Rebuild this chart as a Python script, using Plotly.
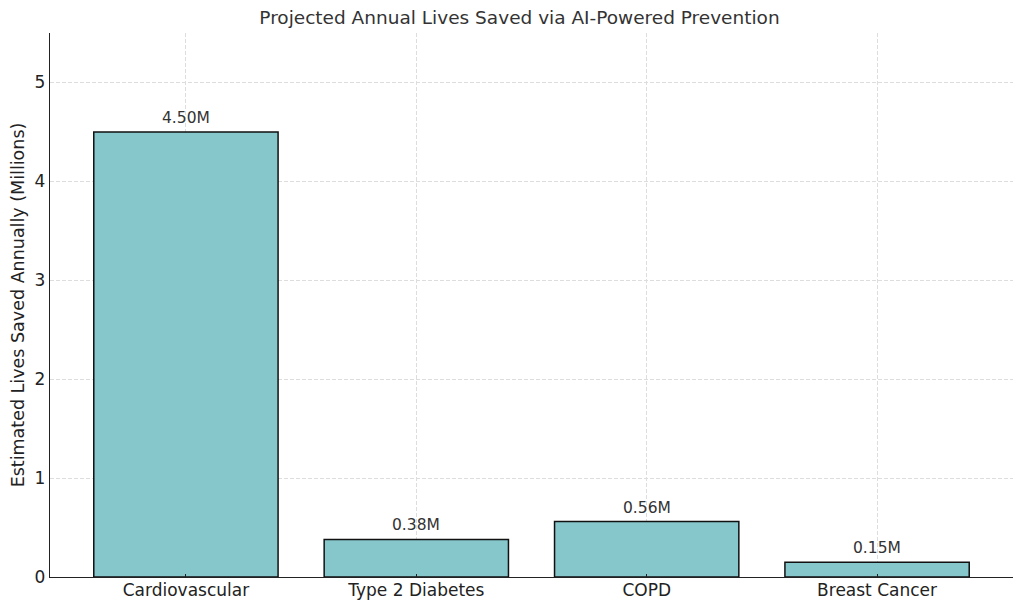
import plotly.graph_objects as go

categories = ["Cardiovascular", "Type 2 Diabetes", "COPD", "Breast Cancer"]
lives_saved_millions = [4.50, 0.38, 0.56, 0.15]
value_labels = ["4.50M", "0.38M", "0.56M", "0.15M"]
y_ticks = [0, 1, 2, 3, 4, 5]

FONT = "DejaVu Sans"

fig = go.Figure()
fig.add_trace(go.Bar(
    x=list(range(len(categories))),
    y=lives_saved_millions,
    width=0.8,
    marker=dict(color="#86C7CC", line=dict(color="#111111", width=1.5)),
    hoverinfo="skip",
))

for i, (v, lab) in enumerate(zip(lives_saved_millions, value_labels)):
    fig.add_annotation(x=i, y=v, text=lab, showarrow=False, yanchor="bottom",
                       yshift=3, font=dict(family=FONT, size=15.5, color="#333333"))

fig.update_layout(
    width=1023, height=610,
    margin=dict(l=42, r=18, t=25, b=41),
    paper_bgcolor="white", plot_bgcolor="white",
    showlegend=False,
    title=dict(text="Projected Annual Lives Saved via AI-Powered Prevention",
               x=0.5, xanchor="center", y=0.984, yanchor="middle",
               font=dict(family=FONT, size=18.5, color="#333333")),
    font=dict(family=FONT, color="#222222"),
)
fig.update_xaxes(
    range=[-0.59, 3.59],
    tickmode="array", tickvals=list(range(len(categories))), ticktext=categories,
    tickfont=dict(family=FONT, size=17, color="#222222"),
    showgrid=True, gridcolor="#dddddd", gridwidth=0.8, griddash="4px,2px",
    showline=True, linecolor="#222222", linewidth=1.3,
    ticks="inside", ticklen=3, tickcolor="#222222", ticklabelstandoff=-3,
    zeroline=False, layer="above traces", automargin=False,
)
fig.update_yaxes(
    range=[0, 5.5],
    tickmode="array", tickvals=y_ticks,
    tickfont=dict(family=FONT, size=17, color="#222222"),
    title=dict(text="Estimated Lives Saved Annually (Millions)",
               font=dict(family=FONT, size=17.5, color="#222222"), standoff=6),
    showgrid=True, gridcolor="#dddddd", gridwidth=0.8, griddash="4px,2px",
    showline=True, linecolor="#222222", linewidth=1.3,
    ticks="", zeroline=False, layer="above traces", automargin=False,
)

fig.write_html("out.html")
